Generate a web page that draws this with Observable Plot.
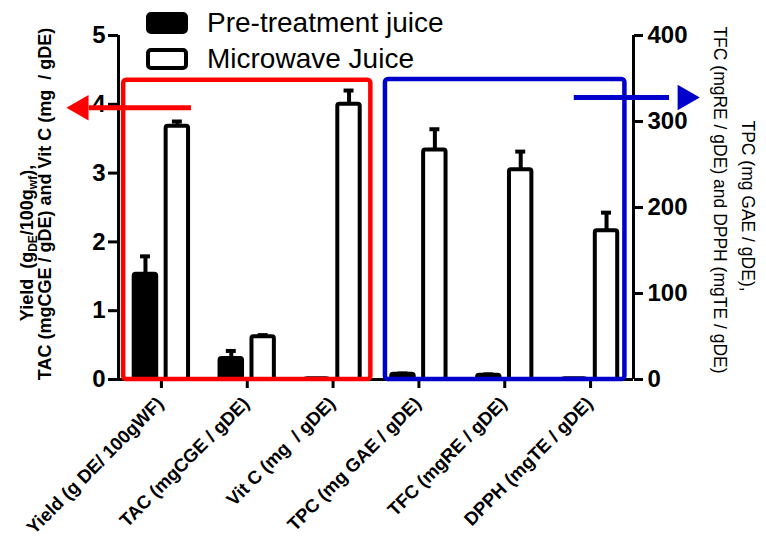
<!DOCTYPE html>
<html><head><meta charset="utf-8">
<script src="https://cdn.jsdelivr.net/npm/d3@7"></script>
<script src="https://cdn.jsdelivr.net/npm/@observablehq/plot@0.6"></script>
<style>
body{margin:0;background:#fff;}
#wrap{width:766px;height:544px;}
</style></head><body><div id="wrap"></div>
<script>
// ---- data ----
const categories = ["Yield (g DE/ 100gWF)", "TAC (mgCGE / gDE)", "Vit C (mg  / gDE)", "TPC (mg GAE / gDE)", "TFC (mgRE / gDE)", "DPPH (mgTE / gDE)"];
const axisSide = ["left", "left", "left", "right", "right", "right"];
const seriesNames = ["Pre-treatment juice", "Microwave Juice"];
const preValues = [1.53, 0.305, 0.012, 6, 5, 1];
const preErrors = [0.26, 0.11, 0, 1, 1, 0];
const mwValues = [3.68, 0.62, 4.0, 267, 244, 173];
const mwErrors = [0.07, 0.025, 0.2, 24, 21, 21];
const leftTicks = [0, 1, 2, 3, 4, 5];
const rightTicks = [0, 100, 200, 300, 400];
const leftTitle = ["Yield  (g", "DE", "/100g", "wf", "),", "TAC (mgCGE / gDE) and Vit C (mg  / gDE)"];
const rightTitle = ["TPC (mg GAE / gDE),", "TFC (mgRE / gDE) and DPPH (mgTE / gDE)"];
// annotation boxes / arrows (in left-axis data units, x = category index)
const boxColors = ["#ff0000", "#0000cc"];
const boxX1 = [-0.44, 2.61];
const boxX2 = [2.44, 5.40];
const boxTop = [4.35, 4.36];
const arrowFrom = [0.35, 4.81];
const arrowTo = [-0.84, 5.92];
const arrowHead = [-0.935, 6.10];
const arrowY = [3.95, 4.10];
const arrowRotate = [-90, 90];

// ---- derived ----
const ratio = rightTicks[rightTicks.length - 1] / leftTicks[leftTicks.length - 1];
const bars = [];
categories.forEach((c, i) => {
  const s = axisSide[i] === "right" ? 1 / ratio : 1;
  bars.push({i, series: 0, x1: i - 0.317, x2: i - 0.055, xc: i - 0.186, v: preValues[i] * s, top: (preValues[i] + preErrors[i]) * s, err: preErrors[i]});
  bars.push({i, series: 1, x1: i + 0.055, x2: i + 0.316, xc: i + 0.186, v: mwValues[i] * s, top: (mwValues[i] + mwErrors[i]) * s, err: mwErrors[i]});
});
const errs = bars.filter(d => d.err > 0);
const boxes = boxColors.map((c, k) => ({c, x1: boxX1[k], x2: boxX2[k], y2: boxTop[k]}));
const arrows = boxColors.map((c, k) => ({c, x1: arrowFrom[k], x2: arrowTo[k], xh: arrowHead[k], y: arrowY[k], r: arrowRotate[k]}));
const idx = categories.map((_, i) => i);
const font = "Liberation Sans, Arial, Helvetica, sans-serif";

const svgEl = Plot.plot({
  width: 766, height: 544,
  marginLeft: 118, marginRight: 133, marginTop: 35, marginBottom: 165,
  x: {type: "linear", domain: [-0.5, 5.5], axis: null},
  y: {domain: [0, 5], axis: null},
  style: {fontFamily: font, background: "white", color: "black", overflow: "visible"},
  marks: [
    Plot.axisY({anchor: "left", ticks: leftTicks, tickFormat: d => String(d), tickSize: 10, tickPadding: 3, strokeWidth: 3, fontSize: 24, fontWeight: "bold", label: null}),
    Plot.axisY({anchor: "right", ticks: rightTicks.map(v => v / ratio), tickFormat: d => String(Math.round(d * ratio)), tickSize: 9, tickPadding: 5, strokeWidth: 3, fontSize: 24, fontWeight: "bold", label: null}),
    Plot.axisX({ticks: idx, tickFormat: () => "", tickSize: 9, strokeWidth: 3, label: null}),
    Plot.ruleX([-0.5, 5.5], {y1: 0, y2: 5, strokeWidth: 3}),
    Plot.ruleY([0], {x1: -0.5, x2: 5.5, strokeWidth: 3}),
    Plot.text(categories, {x: (d, i) => i, y: 0, text: d => d, rotate: -45, textAnchor: "end", lineAnchor: "middle", dx: -1, dy: 21, fontSize: 18.5, fontWeight: "bold"}),
    Plot.ruleX(errs, {x: "xc", y1: "v", y2: "top", strokeWidth: 4}),
    Plot.ruleY(errs, {y: "top", x1: d => d.xc - 0.058, x2: d => d.xc + 0.058, strokeWidth: 4}),
    Plot.rect(bars, {x1: "x1", x2: "x2", y1: 0, y2: "v", fill: d => d.series === 0 ? "black" : "white", stroke: "black", strokeWidth: 4, strokeLinejoin: "round", rx: 2}),
    Plot.rect(boxes.slice(0, 1), {x1: "x1", x2: "x2", y1: 0, y2: "y2", fill: "none", stroke: boxColors[0], strokeWidth: 4.5, rx: 3}),
    Plot.rect(boxes.slice(1, 2), {x1: "x1", x2: "x2", y1: 0, y2: "y2", fill: "none", stroke: boxColors[1], strokeWidth: 4.5, rx: 3}),
    Plot.ruleY(arrows.slice(0, 1), {y: "y", x1: "x1", x2: "x2", stroke: boxColors[0], strokeWidth: 5}),
    Plot.ruleY(arrows.slice(1, 2), {y: "y", x1: "x1", x2: "x2", stroke: boxColors[1], strokeWidth: 5}),
    Plot.dot(arrows.slice(0, 1), {x: "xh", y: "y", symbol: "triangle", r: 9.5, rotate: "r", fill: boxColors[0], stroke: "none"}),
    Plot.dot(arrows.slice(1, 2), {x: "xh", y: "y", symbol: "triangle", r: 9.5, rotate: "r", fill: boxColors[1], stroke: "none"})
  ]
});
document.getElementById("wrap").appendChild(svgEl);

// ---- titles and legend as svg text ----
const svg = d3.select(svgEl);
const lt = svg.append("g").attr("font-family", font).attr("font-weight", "bold").attr("font-size", 18).attr("fill", "black");
const l1 = lt.append("text").attr("transform", "translate(33,243) rotate(-90)").attr("text-anchor", "middle").attr("xml:space", "preserve");
l1.append("tspan").text(leftTitle[0]);
l1.append("tspan").attr("dy", 4).attr("font-size", 12).text(leftTitle[1]);
l1.append("tspan").attr("dy", -4).text(leftTitle[2]);
l1.append("tspan").attr("dy", 4).attr("font-size", 12).text(leftTitle[3]);
l1.append("tspan").attr("dy", -4).text(leftTitle[4]);
lt.append("text").attr("transform", "translate(51,204) rotate(-90)").attr("text-anchor", "middle").attr("xml:space", "preserve").text(leftTitle[5]);

const rt = svg.append("g").attr("font-family", font).attr("font-size", 17.5).attr("fill", "black");
rt.append("text").attr("transform", "translate(742,206) rotate(90)").attr("text-anchor", "middle").text(rightTitle[0]);
rt.append("text").attr("transform", "translate(714,200) rotate(90)").attr("text-anchor", "middle").text(rightTitle[1]);

const lg = svg.append("g").attr("font-family", font).attr("font-size", 28).attr("fill", "black").attr("text-anchor", "start");
seriesNames.forEach((name, k) => {
  lg.append("rect").attr("x", 148).attr("y", 14 + k * 36).attr("width", 38).attr("height", 18).attr("rx", 3)
    .attr("fill", k === 0 ? "black" : "white").attr("stroke", "black").attr("stroke-width", 4);
  lg.append("text").attr("x", 207).attr("y", 32 + k * 36).attr("text-anchor", "start").text(name);
});
</script></body></html>
